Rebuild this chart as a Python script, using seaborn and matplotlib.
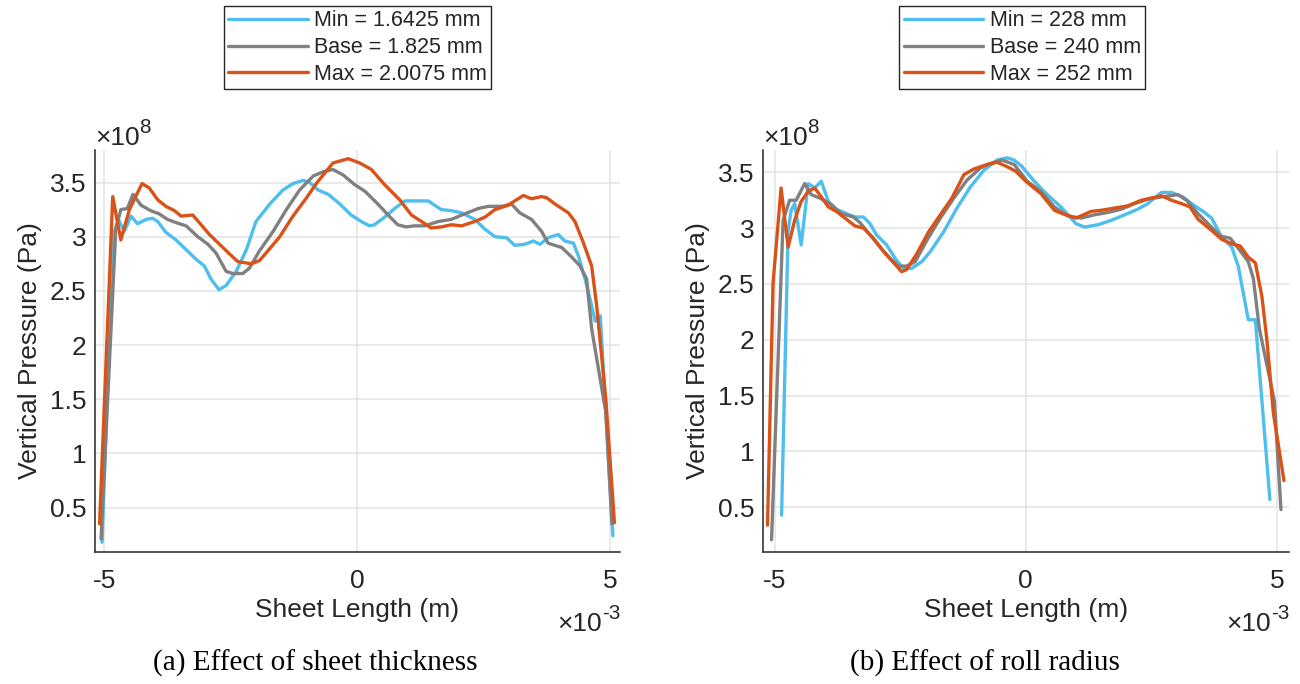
import numpy as np
import pandas as pd
import seaborn as sns
import matplotlib
matplotlib.use("Agg")
import matplotlib.pyplot as plt
from matplotlib.ticker import FuncFormatter, FixedLocator

# ---- data: sheet length in units of 1e-3 m, vertical pressure in units of 1e8 Pa ----
thick_labels = ["Min = 1.6425 mm", "Base = 1.825 mm", "Max = 2.0075 mm"]
radius_labels = ["Min = 228 mm", "Base = 240 mm", "Max = 252 mm"]

thick_min_x = [-5.04, -4.83, -4.72, -4.60, -4.47, -4.34, -4.17, -4.04, -3.94, -3.78, -3.58, -3.38,
               -3.18, -3.02, -2.89, -2.73, -2.59, -2.39, -2.19, -2.00, -1.73, -1.47, -1.27, -1.07,
               -0.94, -0.77, -0.57, -0.34, -0.12, 0.08, 0.24, 0.34, 0.54, 0.74, 0.94, 1.17, 1.40,
               1.66, 1.86, 2.06, 2.32, 2.52, 2.72, 2.95, 3.11, 3.31, 3.48, 3.61, 3.77, 3.97, 4.10,
               4.27, 4.37, 4.50, 4.60, 4.70, 4.80, 5.05]
thick_min_y = [0.18, 3.00, 3.16, 3.05, 3.19, 3.12, 3.16, 3.17, 3.14, 3.04, 2.97, 2.88,
               2.79, 2.73, 2.61, 2.51, 2.55, 2.68, 2.88, 3.14, 3.30, 3.43, 3.49, 3.52,
               3.50, 3.43, 3.39, 3.30, 3.20, 3.14, 3.10, 3.11, 3.18, 3.26, 3.33, 3.33, 3.33,
               3.25, 3.24, 3.22, 3.16, 3.07, 3.00, 2.99, 2.92, 2.93, 2.96, 2.93, 2.99, 3.02, 2.96,
               2.94, 2.82, 2.61, 2.42, 2.22, 2.27, 0.24]

thick_base_x = [-5.06, -4.77, -4.67, -4.54, -4.43, -4.27, -4.08, -3.91, -3.75, -3.58, -3.38, -3.15,
                -2.95, -2.79, -2.59, -2.46, -2.26, -2.13, -1.93, -1.66, -1.40, -1.14, -0.87, -0.67,
                -0.48, -0.28, -0.05, 0.15, 0.41, 0.61, 0.80, 0.97, 1.13, 1.33, 1.60, 1.86, 2.12,
                2.39, 2.59, 2.85, 3.05, 3.21, 3.44, 3.64, 3.77, 4.04, 4.24, 4.40, 4.53, 4.63, 4.91,
                5.03]
thick_base_y = [0.21, 3.07, 3.25, 3.26, 3.39, 3.29, 3.24, 3.21, 3.16, 3.13, 3.10, 3.00,
                2.93, 2.85, 2.68, 2.66, 2.66, 2.71, 2.87, 3.05, 3.25, 3.43, 3.56, 3.60,
                3.62, 3.57, 3.48, 3.42, 3.30, 3.20, 3.11, 3.09, 3.10, 3.10, 3.14, 3.16, 3.21,
                3.26, 3.28, 3.28, 3.30, 3.22, 3.16, 3.05, 2.94, 2.90, 2.81, 2.73, 2.61, 2.15, 1.38,
                0.35]

thick_max_x = [-5.09, -4.83, -4.67, -4.50, -4.41, -4.25, -4.11, -3.94, -3.78, -3.61, -3.48, -3.25,
               -3.12, -2.92, -2.72, -2.52, -2.36, -2.09, -1.93, -1.80, -1.53, -1.27, -1.00, -0.81,
               -0.48, -0.18, 0.05, 0.28, 0.54, 0.84, 1.07, 1.27, 1.46, 1.66, 1.86, 2.06, 2.32,
               2.52, 2.72, 2.98, 3.11, 3.28, 3.44, 3.64, 3.74, 3.91, 4.17, 4.30, 4.47, 4.63, 4.73,
               4.91, 5.08]
thick_max_y = [0.35, 3.37, 2.97, 3.25, 3.34, 3.49, 3.45, 3.34, 3.28, 3.24, 3.19, 3.20,
               3.13, 3.02, 2.93, 2.84, 2.77, 2.75, 2.78, 2.85, 3.00, 3.19, 3.36, 3.49,
               3.68, 3.72, 3.68, 3.62, 3.48, 3.34, 3.20, 3.14, 3.08, 3.09, 3.11, 3.10, 3.14,
               3.18, 3.25, 3.29, 3.33, 3.38, 3.35, 3.37, 3.36, 3.30, 3.22, 3.14, 2.94, 2.73, 2.36,
               1.50, 0.36]

radius_min_x = [-4.86, -4.73, -4.67, -4.60, -4.47, -4.33, -4.20, -4.07, -3.93, -3.77, -3.57, -3.40,
                -3.23, -3.10, -2.97, -2.77, -2.57, -2.43, -2.27, -2.07, -1.90, -1.63, -1.37, -1.10,
                -0.83, -0.57, -0.37, -0.23, -0.07, 0.17, 0.43, 0.70, 1.00, 1.17, 1.43, 1.70, 1.97,
                2.23, 2.43, 2.70, 2.90, 3.13, 3.33, 3.53, 3.70, 3.90, 4.10, 4.23, 4.33, 4.43, 4.57,
                4.86]
radius_min_y = [0.43, 2.98, 3.16, 3.22, 2.85, 3.40, 3.36, 3.42, 3.24, 3.17, 3.13, 3.10,
                3.10, 3.04, 2.94, 2.85, 2.71, 2.64, 2.64, 2.70, 2.79, 2.97, 3.18, 3.37,
                3.52, 3.61, 3.63, 3.61, 3.55, 3.42, 3.30, 3.19, 3.04, 3.01, 3.03, 3.07, 3.12,
                3.17, 3.22, 3.32, 3.32, 3.28, 3.21, 3.15, 3.09, 2.92, 2.83, 2.66, 2.42, 2.18, 2.18,
                0.57]

radius_base_x = [-5.06, -4.83, -4.70, -4.57, -4.40, -4.27, -4.10, -3.90, -3.67, -3.43, -3.30, -3.10,
                 -2.90, -2.70, -2.53, -2.37, -2.20, -1.97, -1.70, -1.43, -1.17, -0.90, -0.70, -0.47,
                 -0.23, 0.03, 0.30, 0.57, 0.83, 1.10, 1.37, 1.63, 1.90, 2.17, 2.43, 2.70, 3.03,
                 3.20, 3.43, 3.63, 3.87, 4.07, 4.23, 4.43, 4.53, 4.65, 4.95, 5.08]
radius_base_y = [0.21, 3.07, 3.25, 3.25, 3.40, 3.30, 3.27, 3.22, 3.13, 3.10, 3.05, 2.94,
                 2.83, 2.73, 2.66, 2.66, 2.70, 2.89, 3.09, 3.27, 3.43, 3.54, 3.58, 3.61,
                 3.57, 3.42, 3.33, 3.19, 3.11, 3.09, 3.12, 3.14, 3.17, 3.22, 3.26, 3.28, 3.30,
                 3.25, 3.13, 3.04, 2.93, 2.91, 2.82, 2.70, 2.55, 2.10, 1.45, 0.48]

radius_max_x = [-5.14, -5.03, -4.87, -4.73, -4.60, -4.47, -4.33, -4.20, -4.07, -3.93, -3.77, -3.57,
                -3.40, -3.23, -3.03, -2.83, -2.63, -2.47, -2.37, -2.17, -1.93, -1.70, -1.47, -1.23,
                -1.03, -0.77, -0.57, -0.37, -0.20, 0.00, 0.30, 0.57, 0.73, 1.00, 1.30, 1.50, 1.77,
                2.03, 2.30, 2.50, 2.70, 2.90, 3.10, 3.27, 3.43, 3.70, 3.90, 4.10, 4.27, 4.43, 4.57,
                4.70, 4.80, 4.93, 5.14]
radius_max_y = [0.34, 2.51, 3.36, 2.83, 3.07, 3.24, 3.33, 3.36, 3.28, 3.19, 3.15, 3.08,
                3.02, 3.00, 2.91, 2.79, 2.69, 2.61, 2.63, 2.77, 2.97, 3.12, 3.27, 3.48,
                3.53, 3.57, 3.59, 3.55, 3.51, 3.42, 3.31, 3.16, 3.13, 3.09, 3.15, 3.16, 3.18,
                3.20, 3.25, 3.27, 3.29, 3.25, 3.22, 3.19, 3.08, 2.98, 2.90, 2.86, 2.84, 2.74, 2.69,
                2.39, 2.00, 1.34, 0.74]

X_UNIT = 1e-3   # m
P_UNIT = 1e8    # Pa
colors = ["#4DBEEE", "#808080", "#D95319"]


def long_frame(series, labels):
    rows = []
    for (xs, ys), lab in zip(series, labels):
        for k, (xv, yv) in enumerate(zip(xs, ys)):
            rows.append({"order": k, "x": xv * X_UNIT, "p": yv * P_UNIT, "case": lab})
    return pd.DataFrame(rows)


def multiplier_top(ax, exponent, size, ink):
    # "x10" with a raised exponent, sitting just above the top-left corner
    base = ax.text(0.0, 1.013, "\u00d710", transform=ax.transAxes, ha="left",
                   va="baseline", fontsize=size, color=ink)
    ax.annotate(exponent, xy=(1.0, 0.55), xycoords=base, ha="left", va="bottom",
                fontsize=size * 0.78, color=ink)


def multiplier_bottom(ax, exponent, size, ink):
    # "x10" with a raised exponent, right-aligned under the x axis end
    sup = ax.text(1.0, -0.176, exponent, transform=ax.transAxes, ha="right",
                  va="bottom", fontsize=size * 0.78, color=ink)
    ax.annotate("\u00d710", xy=(0.0, 0.0), xycoords=sup, xytext=(0, -0.3 * size),
                textcoords="offset points", ha="right", va="baseline",
                fontsize=size, color=ink)


sns.set_theme(style="whitegrid")
plt.rcParams["font.family"] = ["Liberation Sans", "DejaVu Sans"]

fig = plt.figure(figsize=(13, 6.84), dpi=100)
fig.patch.set_facecolor("white")

W, H = 1300, 684
ax_a = fig.add_axes([95 / W, 1 - 552 / H, 525 / W, 402 / H])
ax_b = fig.add_axes([763 / W, 1 - 552 / H, 526 / W, 402 / H])

panels = [
    (ax_a, [(thick_min_x, thick_min_y), (thick_base_x, thick_base_y), (thick_max_x, thick_max_y)],
     thick_labels, (-5.18, 5.19), (0.09, 3.80), 0.5, "(a) Effect of sheet thickness", 315),
    (ax_b, [(radius_min_x, radius_min_y), (radius_base_x, radius_base_y), (radius_max_x, radius_max_y)],
     radius_labels, (-5.23, 5.24), (0.10, 3.70), 0.493, "(b) Effect of roll radius", 985),
]

ink = "#262626"
FS = 19
for ax, series, labels, xlim, ylim, leg_x, caption, cap_x in panels:
    df = long_frame(series, labels)
    sns.lineplot(data=df, x="x", y="p", hue="case", hue_order=labels, palette=colors,
                 estimator=None, units="case", sort=False, linewidth=2.4, legend=False, ax=ax)

    ax.set_xlim(xlim[0] * X_UNIT, xlim[1] * X_UNIT)
    ax.set_ylim(ylim[0] * P_UNIT, ylim[1] * P_UNIT)
    ax.xaxis.set_major_locator(FixedLocator([v * X_UNIT for v in (-5, 0, 5)]))
    ax.yaxis.set_major_locator(FixedLocator([v * P_UNIT for v in (0.5, 1, 1.5, 2, 2.5, 3, 3.5)]))
    ax.xaxis.set_major_formatter(FuncFormatter(lambda v, _: f"{v / X_UNIT:g}"))
    ax.yaxis.set_major_formatter(FuncFormatter(lambda v, _: f"{v / P_UNIT:g}"))

    ax.set_facecolor("white")
    ax.grid(True, color="#e3e3e3", linewidth=1.1)
    ax.set_axisbelow(True)
    for side in ("top", "right"):
        ax.spines[side].set_visible(False)
    for side in ("left", "bottom"):
        ax.spines[side].set_color(ink)
        ax.spines[side].set_linewidth(1.1)
    ax.tick_params(axis="both", direction="in", length=4, width=1, color=ink,
                   labelcolor=ink, labelsize=FS)
    ax.tick_params(axis="x", pad=12)
    ax.tick_params(axis="y", pad=6)

    ax.set_xlabel("Sheet Length (m)", fontsize=FS, color=ink, labelpad=4)
    ax.set_ylabel("Vertical Pressure (Pa)", fontsize=FS, color=ink, labelpad=6)

    multiplier_top(ax, "8", FS, ink)
    multiplier_bottom(ax, "-3", FS, ink)

    leg = ax.legend(handles=ax.lines[:3], labels=labels, loc="upper center",
                    bbox_to_anchor=(leg_x, 1.358), borderaxespad=0, fontsize=15.5,
                    frameon=True, fancybox=False, framealpha=1, edgecolor=ink,
                    handlelength=3.7, handletextpad=0.3, labelspacing=0.27, borderpad=0.2)
    leg.get_frame().set_linewidth(1.0)
    for t in leg.get_texts():
        t.set_color(ink)

    fig.text(cap_x / W, 1 - 663 / H, caption, ha="center", va="center",
             fontsize=21, family="Liberation Serif", color="black")

fig.savefig("out.png", dpi=100, facecolor="white")
